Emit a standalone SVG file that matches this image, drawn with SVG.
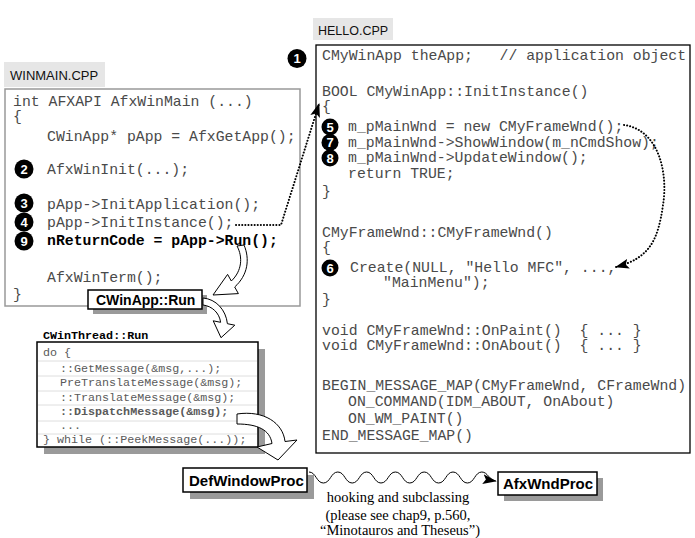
<svg xmlns="http://www.w3.org/2000/svg" width="695" height="538" viewBox="0 0 695 538">
<defs>
<style>
.c{font-family:"Liberation Mono","Courier New",monospace;font-size:14.8px;fill:#4a4a4a;white-space:pre}
.cb{font-weight:bold;fill:#000}
.s{font-size:11.7px;fill:#5a5a5a}
.lbl{font-family:"Liberation Sans",Arial,sans-serif;font-size:13px;fill:#111}
.bt{font-family:"Liberation Sans",Arial,sans-serif;font-weight:bold;font-size:15px;fill:#000}
.num circle{fill:#000}
.num text{font-family:"Liberation Sans",Arial,sans-serif;font-weight:bold;font-size:13px;fill:#fff;text-anchor:middle}
.tag{fill:#e6e6e6}
.shadow{fill:#9a9a9a}
.wbox{fill:#fff;stroke:#000;stroke-width:1.5}
.dot{fill:none;stroke:#000;stroke-width:2;stroke-dasharray:0.1 3;stroke-linecap:round}
.hollow{fill:#fff;stroke:#000;stroke-width:1;stroke-linejoin:round}
.rule{stroke:#dedede;stroke-width:1}
.note{font-family:"Liberation Serif","Times New Roman",serif;font-size:14.5px;fill:#000;text-anchor:middle}
</style>
<marker id="ah" markerUnits="userSpaceOnUse" markerWidth="14" markerHeight="10" refX="13" refY="5" orient="auto">
<path d="M0,0 L14,5 L0,10 L3,5 z" fill="#000"/>
</marker>
</defs>
<rect width="695" height="538" fill="#fff"/>

<g id="winmain">
<rect class="tag" x="4" y="62" width="101" height="25"/>
<text class="lbl" x="10" y="80">WINMAIN.CPP</text>
<rect x="5" y="89" width="295" height="217" fill="#fff" stroke="#999" stroke-width="1.5"/>
<text class="c" x="13" y="106">int AFXAPI AfxWinMain (...)</text>
<text class="c" x="13" y="121">{</text>
<text class="c" x="47" y="141">CWinApp* pApp = AfxGetApp();</text>
<text class="c" x="47" y="174">AfxWinInit(...);</text>
<text class="c" x="47" y="209">pApp->InitApplication();</text>
<text class="c" x="47" y="227">pApp->InitInstance();</text>
<text class="c cb" x="47" y="245">nReturnCode = pApp->Run();</text>
<text class="c" x="47" y="282">AfxWinTerm();</text>
<text class="c" x="13" y="299">}</text>
<g class="num">
<circle cx="24" cy="169" r="9.5"/><text x="24" y="173.5">2</text>
<circle cx="24" cy="203" r="9.5"/><text x="24" y="207.5">3</text>
<circle cx="24" cy="222" r="9.5"/><text x="24" y="226.5">4</text>
<circle cx="24" cy="241" r="9.5"/><text x="24" y="245.5">9</text>
</g>
</g>

<g id="hello">
<rect class="tag" x="313" y="18" width="80" height="22"/>
<text class="lbl" x="318" y="35" style="font-size:12.5px">HELLO.CPP</text>
<rect x="316" y="45" width="374" height="408" fill="#fff" stroke="#000" stroke-width="1.3"/>
<text class="c" x="322" y="60">CMyWinApp theApp;   // application object</text>
<text class="c" x="322" y="96">BOOL CMyWinApp::InitInstance()</text>
<text class="c" x="322" y="111">{</text>
<text class="c" x="348" y="131">m_pMainWnd = new CMyFrameWnd();</text>
<text class="c" x="348" y="147">m_pMainWnd->ShowWindow(m_nCmdShow);</text>
<text class="c" x="348" y="162">m_pMainWnd->UpdateWindow();</text>
<text class="c" x="348" y="178">return TRUE;</text>
<text class="c" x="322" y="196">}</text>
<text class="c" x="322" y="237">CMyFrameWnd::CMyFrameWnd()</text>
<text class="c" x="322" y="252">{</text>
<text class="c" x="350" y="272">Create(NULL, "Hello MFC", ...,</text>
<text class="c" x="383" y="287">"MainMenu");</text>
<text class="c" x="322" y="304">}</text>
<text class="c" x="322" y="335">void CMyFrameWnd::OnPaint()  { ... }</text>
<text class="c" x="322" y="350">void CMyFrameWnd::OnAbout()  { ... }</text>
<text class="c" x="322" y="390">BEGIN_MESSAGE_MAP(CMyFrameWnd, CFrameWnd)</text>
<text class="c" x="348" y="406">ON_COMMAND(IDM_ABOUT, OnAbout)</text>
<text class="c" x="348" y="423">ON_WM_PAINT()</text>
<text class="c" x="322" y="440">END_MESSAGE_MAP()</text>
<g class="num">
<circle cx="297" cy="58.5" r="9.5"/><text x="297" y="63">1</text>
<circle cx="330" cy="127" r="8.5"/><text x="330" y="131.5">5</text>
<circle cx="330" cy="142.5" r="8.5"/><text x="330" y="147">7</text>
<circle cx="330" cy="158" r="8.5"/><text x="330" y="162.5">8</text>
<circle cx="330" cy="268" r="8.5"/><text x="330" y="272.5">6</text>
</g>
</g>

<g id="cwinthread-run">
<text class="c cb s" x="43" y="339" style="fill:#000">CWinThread::Run</text>
<rect class="shadow" x="44" y="349" width="221" height="105"/>
<rect class="wbox" x="37" y="342" width="221" height="105"/>
<line class="rule" x1="38" y1="361" x2="257" y2="361"/>
<line class="rule" x1="38" y1="376" x2="257" y2="376"/>
<line class="rule" x1="38" y1="391" x2="257" y2="391"/>
<line class="rule" x1="38" y1="405" x2="257" y2="405"/>
<line class="rule" x1="38" y1="421" x2="257" y2="421"/>
<line class="rule" x1="38" y1="434" x2="257" y2="434"/>
<text class="c s" x="43" y="356">do {</text>
<text class="c s" x="60" y="372">::GetMessage(&amp;msg,...);</text>
<text class="c s" x="60" y="386">PreTranslateMessage(&amp;msg);</text>
<text class="c s" x="60" y="401">::TranslateMessage(&amp;msg);</text>
<text class="c s cb" x="60" y="415">::DispatchMessage(&amp;msg);</text>
<text class="c s" x="60" y="429">...</text>
<text class="c s" x="43" y="443">} while (::PeekMessage(...));</text>
</g>

<g id="cwinapp-run">
<rect class="shadow" x="93" y="295" width="114" height="19"/>
<rect class="wbox" x="88" y="290" width="114" height="19"/>
<text class="bt" x="96" y="305" style="font-size:14px">CWinApp::Run</text>
</g>

<g id="defwindowproc">
<rect class="shadow" x="190" y="475" width="124" height="24"/>
<rect class="wbox" x="183" y="468" width="124" height="24"/>
<text class="bt" x="189" y="486">DefWindowProc</text>
</g>

<g id="afxwndproc">
<rect class="shadow" x="504" y="478" width="99" height="23"/>
<rect class="wbox" x="498" y="472" width="99" height="23"/>
<text class="bt" x="503" y="489">AfxWndProc</text>
</g>

<g id="connectors">
<path class="dot" d="M236 225 L281 225 L319 104" marker-end="url(#ah)"/>
<path class="dot" d="M624 125 C660 130 668 175 663 205 C658 240 650 258 616 267" marker-end="url(#ah)"/>
<path class="hollow" d="M237 246 C243 257 242 271 231.3 281 L227.6 274.4 L213 295 L238.4 293.6 L234.7 287 C248 275 250 259 244 245 Z"/>
<path class="hollow" d="M203 298 C216 299 226 310 227.4 323.7 L234.8 325.2 L221 337.7 L213.2 320.8 L220.6 322.3 C219.5 313 212 306 203 305 Z"/>
<path class="hollow" d="M237 414 C264 410 283 423 285 441.5 L297 440 L278 460 L257 447 L272 443.5 C270 430 258 424 237 424 Z"/>
<path fill="none" stroke="#000" stroke-width="1" d="M309 472 c7 0 7.4 11 14.4 11 s7.4 -11 14.4 -11 s7.4 11 14.4 11 s7.4 -11 14.4 -11 s7.4 11 14.4 11 s7.4 -11 14.4 -11 s7.4 11 14.4 11 s7.4 -11 14.4 -11 s7.4 11 14.4 11 s7.4 -11 14.4 -11 s7.4 11 14.4 11 s7.4 -11 14.4 -11 c6 0 7 8 14 9" marker-end="url(#ah)"/>
<text class="note" x="398" y="502">hooking and subclassing</text>
<text class="note" x="398" y="520">(please see chap9, p.560,</text>
<text class="note" x="400" y="535">“Minotauros and Theseus”)</text>
</g>
</svg>
